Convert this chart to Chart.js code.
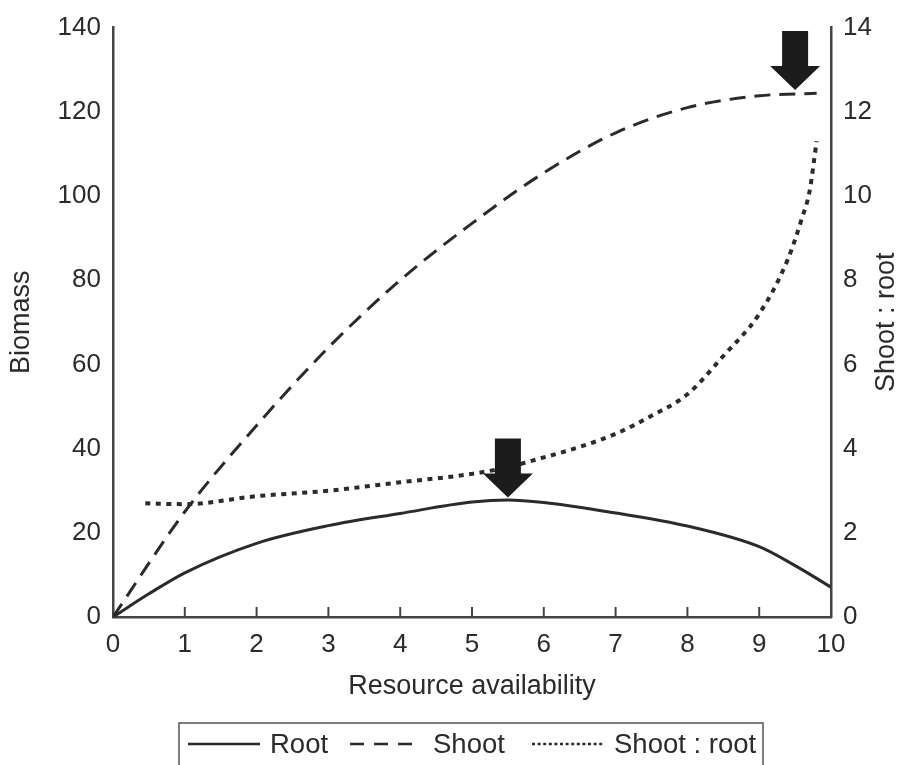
<!DOCTYPE html>
<html>
<head>
<meta charset="utf-8">
<script src="https://cdn.jsdelivr.net/npm/chart.js@4.4.1/dist/chart.umd.min.js"></script>
<style>
  body { margin: 0; background: #fff; }
  #wrap { width: 901px; height: 765px; }
</style>
</head>
<body>
<div id="wrap"><canvas id="chart" width="901" height="765"></canvas></div>
<script>
// values
const rootX = [0, 0.5, 1, 2, 3, 4, 5, 5.5, 6, 7, 8, 9, 9.5, 10];
const rootY = [0, 5.5, 10.5, 17.5, 21.7, 24.6, 27.3, 27.8, 27.2, 24.7, 21.6, 16.7, 12.2, 7.1];

const shootX = [0, 1, 2, 3, 4, 5, 6, 7, 8, 9, 9.8];
const shootY = [0, 25, 45.5, 64, 80, 93.5, 105.5, 115, 121, 123.8, 124.4];

const ratioX = [0.45, 1, 2, 3, 4, 5, 5.5, 6, 6.5, 7, 7.5, 8, 8.5, 9, 9.4, 9.6, 9.7, 9.8];
const ratioY = [2.7, 2.68, 2.87, 3.0, 3.2, 3.4, 3.56, 3.79, 4.04, 4.35, 4.78, 5.29, 6.2, 7.2, 8.5, 9.5, 10.1, 11.3];

const xTicks = [0, 1, 2, 3, 4, 5, 6, 7, 8, 9, 10];
const biomassTicks = [0, 20, 40, 60, 80, 100, 120, 140];
const ratioTicks = [0, 2, 4, 6, 8, 10, 12, 14];

// arrows mark the root maximum and the shoot plateau (biomass units)
const arrowX = [5.5, 9.5];
const arrowY = [28.4, 125.2];

const ink = '#2b2b2b';
const font = '"Liberation Sans", Arial, sans-serif';

function pts(xs, ys) {
    return xs.map((x, i) => ({ x: x, y: ys[i] }));
}

// line styles shared by the curves and the legend
const series = [
    { label: 'Root', x: rootX, y: rootY, axis: 'y', dash: [], width: 3, legendDash: [] },
    { label: 'Shoot', x: shootX, y: shootY, axis: 'y', dash: [16, 9], width: 3, legendDash: [14, 10] },
    { label: 'Shoot : root', x: ratioX, y: ratioY, axis: 'y2', dash: [5, 5.5], width: 4, legendDash: [3, 2.6] }
];

// legend layout: where each sample starts, its length, and the gap to its text
const legendStart = [188, 350, 532];
const legendLen = [72, 62, 71];
const legendGap = [10, 21, 11];

const extras = {
    id: 'extras',
    afterDatasetsDraw(chart) {
        const c = chart.ctx;
        const xs = chart.scales.x, ys = chart.scales.y;
        c.save();
        c.fillStyle = '#1c1c1c';
        arrowX.forEach((v, i) => {
            const px = xs.getPixelForValue(v);
            const py = ys.getPixelForValue(arrowY[i]);
            c.beginPath();
            c.moveTo(px - 13, py - 59);
            c.lineTo(px + 13, py - 59);
            c.lineTo(px + 13, py - 24);
            c.lineTo(px + 25, py - 24);
            c.lineTo(px, py);
            c.lineTo(px - 25, py - 24);
            c.lineTo(px - 13, py - 24);
            c.closePath();
            c.fill();
        });
        c.restore();
    },
    afterDraw(chart) {
        const c = chart.ctx;
        const area = chart.chartArea;
        const xs = chart.scales.x;
        c.save();
        // inward tick marks on the x axis
        c.strokeStyle = '#444';
        c.lineWidth = 2;
        xTicks.slice(1, -1).forEach(v => {
            const px = xs.getPixelForValue(v);
            c.beginPath();
            c.moveTo(px, area.bottom);
            c.lineTo(px, area.bottom - 10);
            c.stroke();
        });

        // axis titles
        c.fillStyle = ink;
        c.font = '27px ' + font;
        c.textAlign = 'center';
        c.textBaseline = 'middle';
        c.fillText('Resource availability', (area.left + area.right) / 2, 687);
        const midY = (area.top + area.bottom) / 2;
        c.save();
        c.translate(22, midY);
        c.rotate(-Math.PI / 2);
        c.fillText('Biomass', 0, 0);
        c.restore();
        c.save();
        c.translate(887, midY);
        c.rotate(-Math.PI / 2);
        c.fillText('Shoot : root', 0, 0);
        c.restore();

        // legend box
        c.strokeStyle = '#555';
        c.lineWidth = 1.5;
        c.strokeRect(179, 723, 584, 60);
        const ly = 744;
        c.font = '27.5px ' + font;
        c.textAlign = 'left';
        series.forEach((s, i) => {
            const lx = legendStart[i];
            c.beginPath();
            c.setLineDash(s.legendDash);
            c.lineWidth = 2.5;
            c.strokeStyle = ink;
            c.moveTo(lx, ly);
            c.lineTo(lx + legendLen[i], ly);
            c.stroke();
            c.setLineDash([]);
            c.fillText(s.label, lx + legendLen[i] + legendGap[i], ly + 1);
        });
        c.restore();
    }
};

new Chart(document.getElementById('chart'), {
    type: 'line',
    data: {
        datasets: series.map(s => ({
            label: s.label,
            data: pts(s.x, s.y),
            yAxisID: s.axis,
            borderColor: ink,
            borderWidth: s.width,
            borderDash: s.dash,
            borderCapStyle: 'butt',
            pointRadius: 0,
            fill: false,
            cubicInterpolationMode: 'monotone'
        }))
    },
    options: {
        responsive: false,
        animation: false,
        devicePixelRatio: 1,
        layout: { padding: { top: 27, left: 0, right: 0, bottom: 0 } },
        plugins: { legend: { display: false }, tooltip: { enabled: false } },
        scales: {
            x: {
                type: 'linear', min: 0, max: 10,
                afterBuildTicks: s => { s.ticks = xTicks.map(v => ({ value: v })); },
                afterFit: s => { s.height = 148; },
                grid: { display: false, drawTicks: false },
                border: { display: true, color: '#444', width: 2.5 },
                ticks: { color: ink, font: { family: font, size: 26 }, padding: 12, maxRotation: 0 }
            },
            y: {
                position: 'left', min: 0, max: 140,
                afterBuildTicks: s => { s.ticks = biomassTicks.map(v => ({ value: v })); },
                afterFit: s => { s.width = 113; },
                grid: { display: false, drawTicks: false },
                border: { display: true, color: '#444', width: 2.5 },
                ticks: { color: ink, font: { family: font, size: 26 }, padding: 12 }
            },
            y2: {
                position: 'right', min: 0, max: 14,
                afterBuildTicks: s => { s.ticks = ratioTicks.map(v => ({ value: v })); },
                afterFit: s => { s.width = 70; },
                grid: { display: false, drawTicks: false },
                border: { display: true, color: '#444', width: 2.5 },
                ticks: { color: ink, font: { family: font, size: 26 }, padding: 12 }
            }
        }
    },
    plugins: [extras]
});
</script>
</body>
</html>
